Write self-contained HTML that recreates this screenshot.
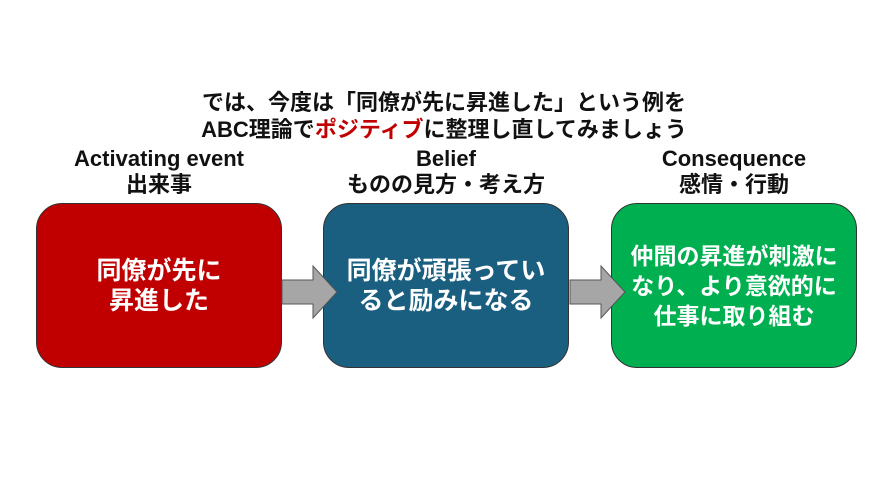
<!DOCTYPE html>
<html><head><meta charset="utf-8"><style>
body{margin:0;width:888px;height:499px;background:#fff;position:relative;overflow:hidden;font-family:"Liberation Sans","Noto Sans CJK JP",sans-serif;font-weight:bold;}
.t{position:absolute;text-align:center;color:#111;white-space:nowrap;}
.box{position:absolute;top:203px;width:246px;height:165px;border-radius:26px;border:1px solid #333;box-sizing:border-box;color:#fff;font-size:25px;line-height:30px;display:flex;align-items:center;justify-content:center;text-align:center;white-space:nowrap;}
</style></head><body>
<div class="t" style="left:0;width:888px;top:89px;font-size:22px;line-height:27px;">では、今度は「同僚が先に昇進した」という例を<br>ABC理論で<span style="color:#c00000">ポジティブ</span>に整理し直してみましょう</div>
<div class="t" style="left:36px;width:246px;top:146px;font-size:22px;line-height:26px;">Activating event<br>出来事</div>
<div class="t" style="left:323px;width:246px;top:146px;font-size:22px;line-height:26px;">Belief<br>ものの見方・考え方</div>
<div class="t" style="left:611px;width:246px;top:146px;font-size:22px;line-height:26px;">Consequence<br>感情・行動</div>
<div class="box" style="left:36px;background:#c00000;">同僚が先に<br>昇進した</div>
<div class="box" style="left:323px;background:#1a5e80;">同僚が頑張ってい<br>ると励みになる</div>
<div class="box" style="left:611px;background:#00b050;font-size:23px;">仲間の昇進が刺激に<br>なり、より意欲的に<br>仕事に取り組む</div>
<svg width="888" height="499" style="position:absolute;left:0;top:0">
<polygon points="282,280 313,280 313,266 337,292 313,318 313,304 282,304" fill="#a6a6a6" stroke="#555" stroke-width="1"/>
<polygon points="570,280 601,280 601,266 625,292 601,318 601,304 570,304" fill="#a6a6a6" stroke="#555" stroke-width="1"/>
</svg>
</body></html>
